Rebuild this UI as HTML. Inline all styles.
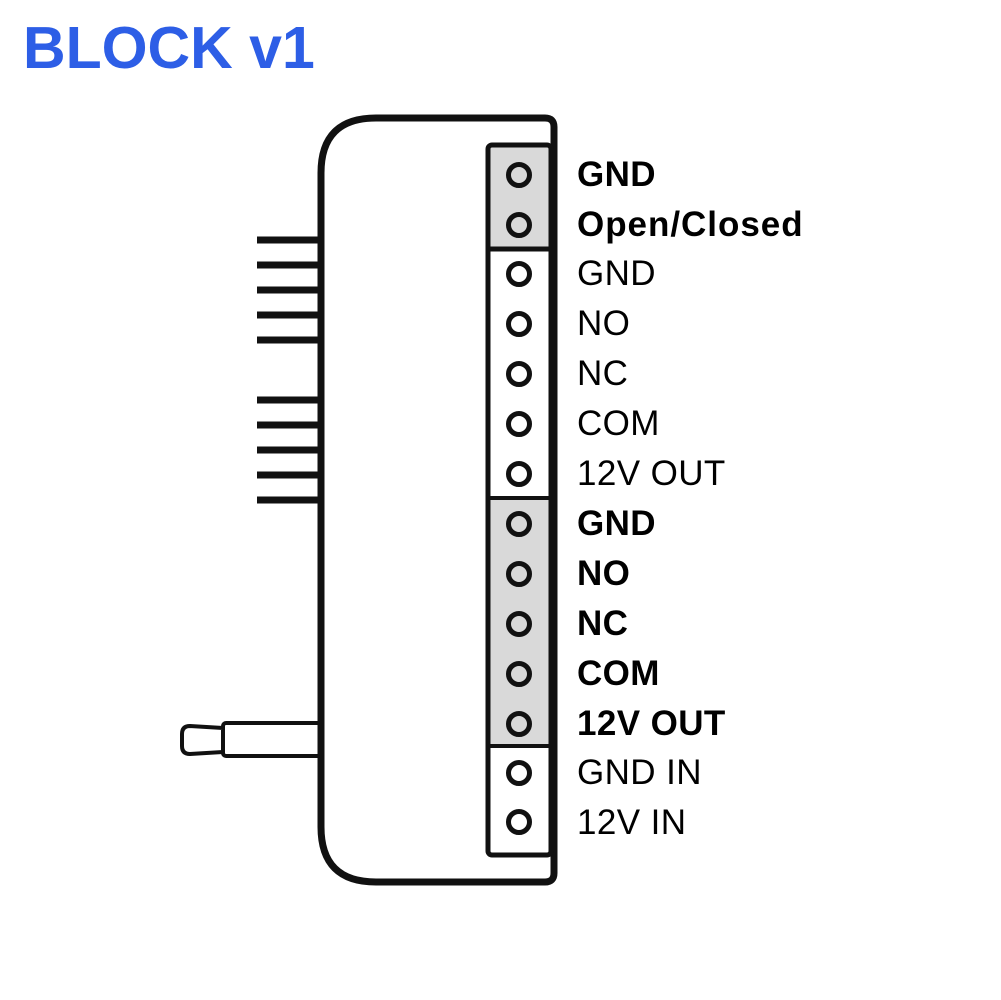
<!DOCTYPE html>
<html><head><style>
html,body{margin:0;padding:0;background:#fff;}
svg{display:block;}
</style></head><body>
<svg width="1001" height="1000" viewBox="0 0 1001 1000" xmlns="http://www.w3.org/2000/svg">
<text x="23" y="68" font-family="Liberation Sans, sans-serif" font-weight="bold" font-size="59" fill="#2d5ee6">BLOCK v1</text>
<g stroke="#111" stroke-width="7">
<line x1="257" y1="240" x2="321" y2="240"/>
<line x1="257" y1="265" x2="321" y2="265"/>
<line x1="257" y1="290" x2="321" y2="290"/>
<line x1="257" y1="315" x2="321" y2="315"/>
<line x1="257" y1="340" x2="321" y2="340"/>
<line x1="257" y1="400" x2="321" y2="400"/>
<line x1="257" y1="425" x2="321" y2="425"/>
<line x1="257" y1="450" x2="321" y2="450"/>
<line x1="257" y1="475" x2="321" y2="475"/>
<line x1="257" y1="500" x2="321" y2="500"/>
</g>
<rect x="223" y="723" width="100" height="33" rx="3" fill="#fff" stroke="#111" stroke-width="4"/>
<path d="M223 728 L190 726 Q182 726 182 734 L182 746 Q182 754 190 754 L223 752 Z" fill="#fff" stroke="#111" stroke-width="4"/>
<path d="M376 118 L545 118 Q554 118 554 127 L554 873 Q554 882 545 882 L376 882 Q321 882 321 827 L321 173 Q321 118 376 118 Z" fill="#fff" stroke="#111" stroke-width="7"/>
<rect x="488" y="145" width="63" height="104" fill="#d9d9d9"/>
<rect x="488" y="498" width="63" height="248" fill="#d9d9d9"/>
<rect x="488" y="145" width="63" height="710" rx="4" fill="none" stroke="#111" stroke-width="5"/>
<line x1="488" y1="249" x2="551" y2="249" stroke="#111" stroke-width="5"/>
<line x1="488" y1="498" x2="551" y2="498" stroke="#111" stroke-width="4"/>
<line x1="488" y1="746" x2="551" y2="746" stroke="#111" stroke-width="4"/>
<g fill="none" stroke="#111" stroke-width="5">
<circle cx="519" cy="175" r="10.5"/><circle cx="519" cy="225" r="10.5"/>
<circle cx="519" cy="274" r="10.5"/><circle cx="519" cy="324" r="10.5"/>
<circle cx="519" cy="374" r="10.5"/><circle cx="519" cy="424" r="10.5"/>
<circle cx="519" cy="474" r="10.5"/><circle cx="519" cy="524" r="10.5"/>
<circle cx="519" cy="574" r="10.5"/><circle cx="519" cy="624" r="10.5"/>
<circle cx="519" cy="674" r="10.5"/><circle cx="519" cy="724" r="10.5"/>
<circle cx="519" cy="773" r="10.5"/><circle cx="519" cy="822" r="10.5"/>
</g>
<g font-family="Liberation Sans, sans-serif" font-size="35" fill="#000" letter-spacing="0.4">
<text x="577" y="186" font-weight="bold">GND</text>
<text x="577" y="236" font-weight="bold" textLength="226">Open/Closed</text>
<text x="577" y="285">GND</text>
<text x="577" y="335">NO</text>
<text x="577" y="385">NC</text>
<text x="577" y="435">COM</text>
<text x="577" y="485">12V OUT</text>
<text x="577" y="535" font-weight="bold">GND</text>
<text x="577" y="585" font-weight="bold">NO</text>
<text x="577" y="635" font-weight="bold">NC</text>
<text x="577" y="685" font-weight="bold">COM</text>
<text x="577" y="735" font-weight="bold">12V OUT</text>
<text x="577" y="784">GND IN</text>
<text x="577" y="834">12V IN</text>
</g>
</svg>
</body></html>
